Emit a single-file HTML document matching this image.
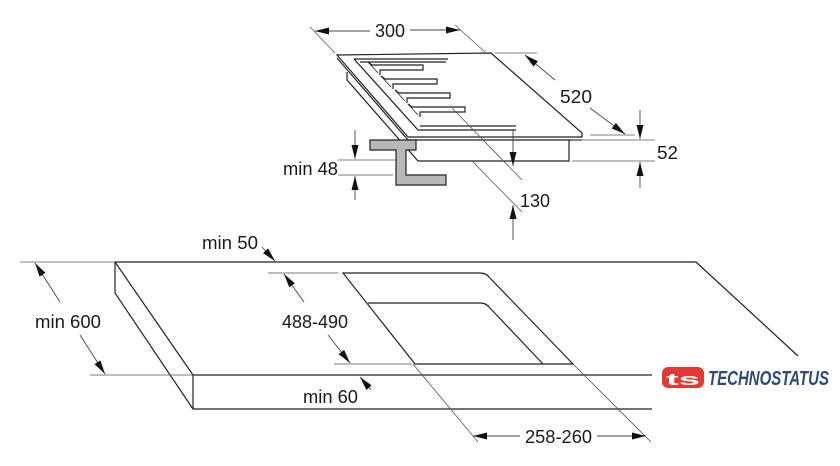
<!DOCTYPE html>
<html><head><meta charset="utf-8"><style>
html,body{margin:0;padding:0;background:#fff}
svg{display:block}
text{font-family:"Liberation Sans",sans-serif;fill:#1a1a1a}
</style></head><body>
<svg width="840" height="466" viewBox="0 0 840 466" xmlns="http://www.w3.org/2000/svg">
<defs>
<marker id="a" viewBox="0 0 14 7" refX="14" refY="3.5" markerWidth="14" markerHeight="7" orient="auto" markerUnits="userSpaceOnUse"><path d="M0,0 L14,3.5 L0,7 z" fill="#111"/></marker>
</defs>
<g fill="none" stroke="#222" stroke-width="1.2">
<path d="M115,262 L696,262 L798,356"/>
<path d="M115,262 L115,293 L193,409 L652,409"/>
<path d="M115,262 L193,375 L652,375"/>
<path d="M193,375 L193,409"/>
<path d="M343,273 L480,273 Q486,273 489,277 L573,364 L415,364 Z"/>
<path d="M368,303 L480,303 Q486,303 489,307 L543,364"/>
<path d="M337,55 L491,53 L582,133 L582,137 L408,137 Z"/>
<path d="M337,58 L408,140 L582,140"/>
<path d="M347,72 L347,80 L418,161 L569,161 L569,140"/>
<path d="M354,59 L448,59 M354,59 L418,130 L516,130 M360,62 L446,62 M420,126 L516,126"/>
<path d="M368,62 L372,65 L423,65 L423,70 L380,70 L380,75 M381,76 L385,79 L437,79 L437,84 L393,84 L393,89 M395,90 L399,93 L450,93 L450,98 L407,98 L407,103 M408,104 L412,107 L465,107 L465,112 L420,112 L420,117"/>
<path d="M368,62 L378,73 M381,76 L391,87 M395,90 L405,101 M408,104 L418,115" stroke-width="0.8"/>
</g>
<path d="M370,140 L416,140 L416,150 L406,150 L406,175 L446,175 L446,185 L396,185 L396,150 L370,150 Z" fill="#b8b8b8" stroke="#222" stroke-width="1.2"/>
<g fill="none" stroke="#555" stroke-width="0.8">
<path d="M20,262 L115,262 M90,375 L193,375"/>
<path d="M268,273 L338,273 M334,364 L412,364"/>
<path d="M413,364 L478,442 M573,364 L651,442"/>
<path d="M310,27 L335,53 M455,25 L485,52"/>
<path d="M495,53 L537,53 M590,135 L635,135"/>
<path d="M572,140 L655,140 M572,161 L655,161"/>
<path d="M338,160 L397,160 M338,175 L393,175"/>
<path d="M452,108 L522,180 M473,162 L522,212"/>
</g>
<g stroke="#444" stroke-width="0.9" fill="none">
<line x1="60" y1="302" x2="35" y2="263" marker-end="url(#a)"/>
<line x1="80" y1="335" x2="105" y2="374" marker-end="url(#a)"/>
<line x1="304" y1="302" x2="284" y2="274" marker-end="url(#a)"/>
<line x1="328" y1="335" x2="350" y2="363" marker-end="url(#a)"/>
<line x1="262" y1="247" x2="275" y2="261" marker-end="url(#a)"/>
<line x1="371" y1="390" x2="360" y2="377" marker-end="url(#a)"/>
<line x1="520" y1="436" x2="473" y2="436" marker-end="url(#a)"/>
<line x1="597" y1="436" x2="646" y2="436" marker-end="url(#a)"/>
<line x1="370" y1="31" x2="315" y2="31" marker-end="url(#a)"/>
<line x1="410" y1="30" x2="460" y2="30" marker-end="url(#a)"/>
<line x1="555" y1="80" x2="525" y2="55" marker-end="url(#a)"/>
<line x1="590" y1="108" x2="625" y2="134" marker-end="url(#a)"/>
<line x1="640" y1="110" x2="640" y2="139" marker-end="url(#a)"/>
<line x1="640" y1="188" x2="640" y2="162" marker-end="url(#a)"/>
<line x1="355" y1="130" x2="355" y2="159" marker-end="url(#a)"/>
<line x1="355" y1="200" x2="355" y2="176" marker-end="url(#a)"/>
<line x1="513" y1="130" x2="513" y2="166" marker-end="url(#a)"/>
<line x1="513" y1="240" x2="513" y2="205" marker-end="url(#a)"/>
</g>
<g font-size="18">
<text x="35" y="328" textLength="66" lengthAdjust="spacingAndGlyphs">min 600</text>
<text x="282" y="328" textLength="66" lengthAdjust="spacingAndGlyphs">488-490</text>
<text x="202" y="249" textLength="56" lengthAdjust="spacingAndGlyphs">min 50</text>
<text x="303" y="403" textLength="55" lengthAdjust="spacingAndGlyphs">min 60</text>
<text x="525" y="443" textLength="67" lengthAdjust="spacingAndGlyphs">258-260</text>
<text x="375" y="37" textLength="30" lengthAdjust="spacingAndGlyphs">300</text>
<text x="560" y="103" textLength="32" lengthAdjust="spacingAndGlyphs">520</text>
<text x="657" y="159" textLength="21" lengthAdjust="spacingAndGlyphs">52</text>
<text x="283" y="175" textLength="55" lengthAdjust="spacingAndGlyphs">min 48</text>
<text x="520" y="207" textLength="30" lengthAdjust="spacingAndGlyphs">130</text>
</g>
<rect x="662" y="367" width="42" height="21" rx="6" fill="#e23a33"/>
<text x="666" y="385" font-size="17" font-weight="bold" style="fill:#fff" textLength="34" lengthAdjust="spacingAndGlyphs">ts</text>
<text x="708" y="385" font-size="20" font-weight="bold" font-style="italic" style="fill:#2f4a75" textLength="121" lengthAdjust="spacingAndGlyphs">TECHNOSTATUS</text>
</svg>
</body></html>
